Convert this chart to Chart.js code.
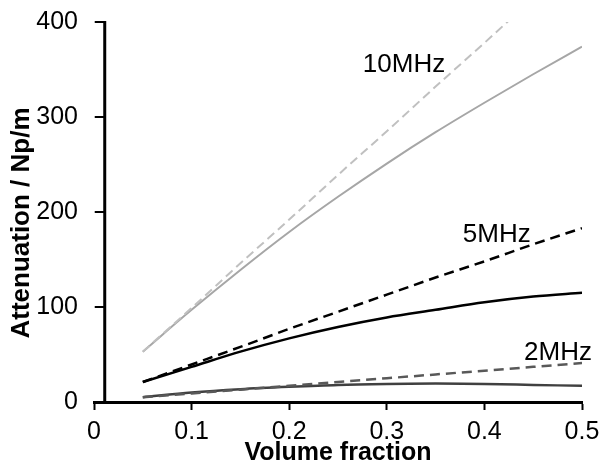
<!DOCTYPE html>
<html>
<head>
<meta charset="utf-8">
<script src="https://cdn.jsdelivr.net/npm/chart.js@4/dist/chart.umd.min.js"></script>
<style>
  html, body { margin: 0; padding: 0; background: #fff; }
  #wrap { width: 608px; height: 466px; }
</style>
</head>
<body>
<div id="wrap"><canvas id="chart"></canvas></div>
<script>
"use strict";

// Volumenanteil (x) und Dämpfung in Np/m (y)
const volumeFraction = [0.05, 0.1, 0.15, 0.2, 0.25, 0.3, 0.35, 0.4, 0.45, 0.5];

const att10Dashed = [53, 99, 146, 192, 239, 285, 332, 378, 425, 471];
const att10Solid  = [53, 97, 139, 179, 216, 251, 284, 315, 345, 374];
const att5Dashed  = [21, 39.5, 58, 77, 95, 113, 131, 148, 166, 183];
const att5Solid   = [21, 37, 53, 67, 79, 89, 97, 105, 111, 115];
const att2Dashed  = [5, 9, 13, 17, 21, 25, 29, 33, 37, 41];
const att2Solid   = [5, 10, 13.5, 16, 18, 19, 19.5, 19, 18, 17];

const xTicks = [0, 0.1, 0.2, 0.3, 0.4, 0.5];
const yTicks = [0, 100, 200, 300, 400];

// Beschriftungen der Frequenzen (Position in Datenkoordinaten)
const freqLabels = ["10MHz", "5MHz", "2MHz"];
const freqLabelX = [0.3176, 0.4127, 0.4754];
const freqLabelY = [355, 176, 52];

const yAxisCross = 0.011; // y-Achse schneidet hier die x-Achse

const FONT = "'Liberation Sans', Arial, sans-serif";

function series(values) {
  return values.map((v, i) => ({ x: volumeFraction[i], y: v }));
}

function makeLine(values, color, width, dash) {
  return {
    data: series(values),
    borderColor: color,
    borderWidth: width,
    borderDash: dash,
    pointRadius: 0,
    fill: false,
    cubicInterpolationMode: "monotone"
  };
}

const decorations = {
  id: "decorations",
  afterDraw(chart) {
    const { ctx, scales: { x, y } } = chart;
    const ax = x.getPixelForValue(yAxisCross);

    ctx.save();
    // y-Achse
    ctx.strokeStyle = "#000";
    ctx.lineWidth = 3;
    ctx.beginPath();
    ctx.moveTo(ax, y.getPixelForValue(yTicks[yTicks.length - 1]) - 1);
    ctx.lineTo(ax, y.getPixelForValue(0) + 1.5);
    ctx.stroke();

    ctx.lineWidth = 2;
    ctx.beginPath();
    yTicks.forEach(v => {
      const py = y.getPixelForValue(v);
      ctx.moveTo(ax - 10, py);
      ctx.lineTo(ax, py);
    });
    ctx.stroke();

    // Frequenz-Labels
    ctx.fillStyle = "#000";
    ctx.font = "26px " + FONT;
    ctx.textAlign = "center";
    ctx.textBaseline = "middle";
    freqLabels.forEach((txt, i) => {
      ctx.fillText(txt, x.getPixelForValue(freqLabelX[i]), y.getPixelForValue(freqLabelY[i]));
    });

    // y-Achsentitel
    ctx.translate(22, 223);
    ctx.rotate(-Math.PI / 2);
    ctx.font = "bold 26px " + FONT;
    ctx.fillText("Attenuation / Np/m", 0, 0);
    ctx.restore();
  }
};

new Chart(document.getElementById("chart"), {
  type: "line",
  data: {
    datasets: [
      makeLine(att10Dashed, "#c0c0c0", 2, [9, 5]),
      makeLine(att10Solid, "#a6a6a6", 2, []),
      makeLine(att5Dashed, "#000000", 2.5, [10, 6]),
      makeLine(att5Solid, "#000000", 2.5, []),
      makeLine(att2Dashed, "#595959", 2.5, [10, 6]),
      makeLine(att2Solid, "#404040", 2.5, [])
    ]
  },
  options: {
    responsive: true,
    maintainAspectRatio: false,
    animation: false,
    layout: { padding: { top: 22, right: 26, left: 0, bottom: 0 } },
    plugins: {
      legend: { display: false },
      tooltip: { enabled: false }
    },
    scales: {
      x: {
        type: "linear",
        min: 0,
        max: 0.5,
        afterBuildTicks: s => { s.ticks = xTicks.map(v => ({ value: v })); },
        afterFit: s => { s.height = 64; },
        ticks: {
          color: "#000",
          font: { family: FONT, size: 25 },
          padding: 7,
          maxRotation: 0,
          callback: v => String(v)
        },
        grid: {
          display: true,
          drawOnChartArea: false,
          drawTicks: true,
          tickLength: 8,
          tickWidth: 2,
          tickColor: "#000"
        },
        border: { display: true, color: "#000", width: 3 },
        title: {
          display: true,
          text: "Volume fraction",
          color: "#000",
          font: { family: FONT, size: 25, weight: "bold" },
          padding: { top: 0, bottom: -2 }
        }
      },
      y: {
        type: "linear",
        min: 0,
        max: 400,
        afterBuildTicks: s => { s.ticks = yTicks.map(v => ({ value: v })); },
        afterFit: s => { s.width = 94; s.paddingTop = 0; s.paddingBottom = 0; },
        ticks: {
          color: "#000",
          font: { family: FONT, size: 25 },
          padding: 16
        },
        grid: { display: false, drawTicks: false },
        border: { display: false }
      }
    }
  },
  plugins: [decorations]
});
</script>
</body>
</html>
